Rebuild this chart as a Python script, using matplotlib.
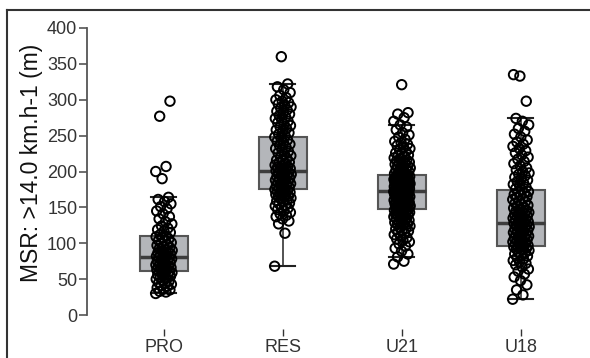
import matplotlib
matplotlib.use("Agg")
import matplotlib.pyplot as plt
from matplotlib.lines import Line2D
import numpy as np

plt.rcParams['font.family'] = ['Liberation Sans', 'DejaVu Sans']

groups = ['PRO', 'RES', 'U21', 'U18']

# box statistics
q1 = [61, 175, 148, 96]
med = [81, 201, 173, 128]
q3 = [110, 248, 195, 174]
whislo = [31, 68, 81, 22]
whishi = [164, 322, 265, 274]

# individual observations (estimated)
pro = [30, 32, 33, 35, 36, 38, 40, 41, 43, 44, 45, 47, 48, 50, 51, 52, 54, 55, 56,
       57, 58, 59, 60, 61, 61, 62, 63, 64, 65, 66, 66, 67, 68, 69, 70, 71, 72, 73,
       74, 75, 76, 77, 78, 79, 80, 80, 81, 82, 83, 84, 85, 86, 87, 88, 89, 90, 91,
       93, 94, 95, 97, 98, 100, 101, 103, 104, 106, 108, 109, 110, 112, 115, 117,
       119, 121, 124, 127, 130, 134, 137, 141, 145, 148, 151, 155, 158, 161, 164,
       190, 200, 207, 277, 298]
res = [68, 114, 127, 131, 134, 137, 139, 141, 143, 145, 147, 149, 150, 152, 153,
       155, 156, 158, 159, 160, 162, 163, 164, 165, 166, 167, 168, 169, 170, 171,
       172, 173, 174, 175, 175, 176, 177, 178, 179, 180, 181, 182, 183, 184, 185,
       186, 187, 188, 189, 190, 191, 192, 193, 194, 195, 196, 197, 198, 199, 200,
       201, 202, 203, 204, 205, 206, 207, 208, 209, 210, 212, 213, 215, 216, 218,
       220, 222, 224, 226, 228, 230, 232, 234, 236, 238, 240, 242, 244, 246, 248,
       250, 252, 254, 256, 258, 260, 262, 264, 266, 268, 270, 272, 274, 276, 278,
       280, 282, 284, 286, 288, 290, 292, 294, 296, 298, 300, 303, 306, 310, 314,
       318, 322, 360]
u21 = [71, 75, 81, 85, 89, 93, 96, 99, 102, 104, 106, 108, 110, 112, 114, 115,
       117, 118, 120, 121, 122, 124, 125, 126, 127, 128, 129, 130, 131, 132, 133,
       134, 135, 136, 137, 138, 139, 140, 140, 141, 142, 142, 143, 144, 144, 145,
       146, 146, 147, 148, 148, 149, 150, 150, 151, 152, 152, 153, 154, 154, 155,
       156, 156, 157, 158, 158, 159, 160, 160, 161, 162, 162, 163, 164, 164, 165,
       165, 166, 166, 167, 168, 168, 169, 169, 170, 170, 171, 171, 172, 172, 173,
       173, 174, 174, 175, 175, 176, 176, 177, 177, 178, 178, 179, 179, 180, 180,
       181, 181, 182, 182, 183, 183, 184, 184, 185, 185, 186, 186, 187, 187, 188,
       188, 189, 189, 190, 190, 191, 191, 192, 192, 193, 193, 194, 195, 195, 196,
       197, 198, 199, 200, 201, 202, 203, 204, 205, 206, 207, 208, 209, 210, 211,
       212, 213, 214, 215, 216, 218, 219, 220, 222, 223, 225, 226, 228, 230, 232,
       234, 236, 238, 240, 242, 245, 248, 251, 254, 258, 262, 265, 270, 275, 280,
       282, 321]
u18 = [22, 28, 35, 42, 48, 53, 57, 61, 64, 67, 70, 72, 74, 76, 78, 80, 82, 84,
       85, 87, 88, 90, 91, 92, 93, 94, 95, 96, 96, 97, 98, 99, 100, 101, 102, 103,
       104, 105, 106, 107, 108, 109, 110, 111, 112, 113, 114, 115, 116, 117, 118,
       119, 120, 121, 122, 123, 124, 125, 126, 127, 128, 128, 129, 130, 131, 132,
       133, 134, 135, 136, 137, 138, 139, 140, 141, 142, 143, 144, 145, 146, 148,
       149, 150, 152, 153, 155, 156, 158, 159, 161, 162, 164, 165, 167, 168, 170,
       171, 172, 174, 176, 178, 180, 182, 184, 186, 188, 190, 192, 194, 196, 198,
       200, 202, 205, 208, 211, 214, 217, 220, 223, 226, 229, 232, 235, 238, 241,
       244, 248, 252, 256, 260, 265, 270, 274, 298, 333, 335]
values = [pro, res, u21, u18]

fig = plt.figure(figsize=(5.9, 3.58), dpi=100)
ax = fig.add_axes([87 / 590, (358 - 315) / 358, (585 - 87) / 590, 287 / 358])

stats = []
for i, g in enumerate(groups):
    stats.append(dict(label=g, q1=q1[i], med=med[i], q3=q3[i],
                      whislo=whislo[i], whishi=whishi[i], fliers=[]))

pos = np.arange(len(groups))
ax.bxp(stats, positions=pos, widths=0.41, patch_artist=True,
       boxprops=dict(facecolor='#b4b6ba', edgecolor='#555555', linewidth=1.5),
       medianprops=dict(color='#3c3c3c', linewidth=2.5),
       whiskerprops=dict(color='#444444', linewidth=1.3),
       capprops=dict(color='#222222', linewidth=1.5),
       capwidths=0.21, zorder=1)

# jittered points
for i, vals in enumerate(values):
    n = len(vals)
    jit = ((np.arange(n) * 0.6180339887) % 1 - 0.5) * 0.14
    ax.scatter(pos[i] + jit, vals, s=46, facecolors='none', edgecolors='black',
               linewidths=1.4, zorder=3)

ax.set_xlim(-0.647, 3.538)
ax.set_ylim(0, 400)
ax.set_yticks(np.arange(0, 401, 50))
ax.set_xticks(pos)
ax.set_xticklabels(groups)
ax.set_ylabel('MSR: >14.0 km.h-1 (m)', fontsize=16.5, color='#111111')
ax.yaxis.set_label_coords(-0.088, 0.53)

for s in ['top', 'right']:
    ax.spines[s].set_visible(False)
ax.spines['left'].set_color('#555555')
ax.spines['left'].set_linewidth(1.3)
ax.spines['bottom'].set_position(('outward', 10))
ax.spines['bottom'].set_color('none')
ax.tick_params(axis='y', colors='#555555', labelcolor='#333333', labelsize=13,
               length=6, width=1.2, pad=1)
ax.tick_params(axis='x', colors='#333333', labelcolor='#333333', labelsize=13,
               length=5, width=1.0, pad=2.5)

# frame lines of the original crop
fig.add_artist(Line2D([7 / 590, 1], [1 - 10 / 358, 1 - 10 / 358],
                      transform=fig.transFigure, color='#333333', linewidth=1.5))
fig.add_artist(Line2D([7 / 590, 7 / 590], [0, 1 - 10 / 358],
                      transform=fig.transFigure, color='#333333', linewidth=1.5))

fig.savefig('out.png', dpi=100)
